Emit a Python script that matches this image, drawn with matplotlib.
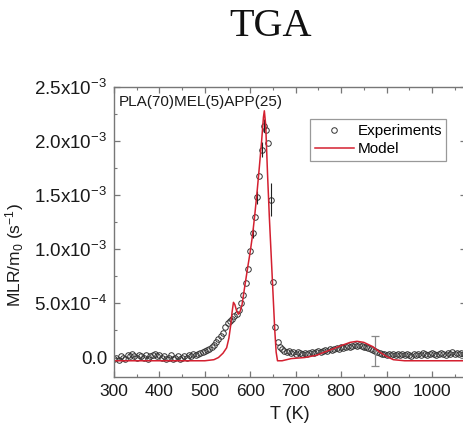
import numpy as np
import matplotlib
matplotlib.use("Agg")
import matplotlib.pyplot as plt
from matplotlib.ticker import MultipleLocator

plt.rcParams["font.family"] = ["Liberation Sans", "DejaVu Sans"]
plt.rcParams["mathtext.default"] = "regular"

# experimental mass loss rate, units of 1e-4 s^-1, sampled every 5 K
t_exp = [300, 305, 310, 315, 320, 325, 330, 335, 340, 345,
         350, 355, 360, 365, 370, 375, 380, 385, 390, 395,
         400, 405, 410, 415, 420, 425, 430, 435, 440, 445,
         450, 455, 460, 465, 470, 475, 480, 485, 490, 495,
         500, 505, 510, 515, 520, 525, 530, 535, 540, 545,
         550, 555, 560, 565, 570, 575, 580, 585, 590, 595,
         600, 605, 610, 615, 620, 625, 630, 635, 640, 645,
         650, 655, 660, 665, 670, 675, 680, 685, 690, 695,
         700, 705, 710, 715, 720, 725, 730, 735, 740, 745,
         750, 755, 760, 765, 770, 775, 780, 785, 790, 795,
         800, 805, 810, 815, 820, 825, 830, 835, 840, 845,
         850, 855, 860, 865, 870, 875, 880, 885, 890, 895,
         900, 905, 910, 915, 920, 925, 930, 935, 940, 945,
         950, 955, 960, 965, 970, 975, 980, 985, 990, 995,
         1000, 1005, 1010, 1015, 1020, 1025, 1030, 1035, 1040, 1045,
         1050, 1055, 1060, 1065, 1070]
mlr_exp = [-0.1, 0.0, -0.2, 0.1, 0.0, -0.1, 0.2, 0.1, 0.3, 0.1,
           0.0, 0.2, 0.1, 0.0, 0.2, -0.1, 0.1, 0.2, 0.3, 0.1,
           0.2, 0.0, 0.1, -0.1, 0.0, 0.2, -0.1, 0.0, 0.1, -0.1,
           0.0, 0.1, 0.0, 0.2, 0.1, 0.3, 0.2, 0.3, 0.4, 0.5,
           0.6, 0.7, 0.8, 1.0, 1.2, 1.4, 1.7, 2.0, 2.3, 2.8,
           3.2, 3.4, 3.6, 3.8, 4.0, 4.4, 5.0, 5.8, 6.9, 8.2,
           9.8, 11.5, 13.0, 14.8, 16.8, 19.2, 21.4, 21.0, 19.8, 14.6,
           7.0, 2.8, 1.4, 1.0, 0.8, 0.6, 0.5, 0.6, 0.4, 0.5,
           0.3, 0.5, 0.4, 0.3, 0.4, 0.3, 0.4, 0.5, 0.4, 0.5,
           0.6, 0.5, 0.6, 0.7, 0.6, 0.8, 0.7, 0.8, 0.9, 0.8,
           1.0, 0.9, 1.0, 1.1, 1.0, 1.1, 1.2, 1.1, 1.2, 1.1,
           1.0, 1.0, 0.9, 0.8, 0.7, 0.6, 0.5, 0.4, 0.3, 0.3,
           0.2, 0.3, 0.2, 0.3, 0.2, 0.3, 0.2, 0.3, 0.2, 0.3,
           0.2, 0.1, 0.3, 0.2, 0.3, 0.2, 0.4, 0.3, 0.2, 0.3,
           0.4, 0.3, 0.2, 0.3, 0.4, 0.3, 0.2, 0.4, 0.3, 0.5,
           0.3, 0.4, 0.3, 0.4, 0.3]

# model prediction, units of 1e-4 s^-1
t_model = [300, 400, 500, 520, 530, 540, 548, 553, 557, 560,
           563, 566, 570, 574, 578, 582, 588, 595, 600, 605,
           610, 615, 620, 625, 629, 631, 634, 638, 642, 646,
           650, 654, 657, 660, 670, 690, 720, 745, 770, 800,
           820, 835, 850, 870, 885, 900, 915, 940, 1075]
mlr_model = [-0.3, -0.3, -0.3, -0.2, 0.0, 0.4, 0.9, 1.8, 3.0, 4.2,
             5.1, 4.9, 4.3, 4.0, 4.3, 4.9, 6.6, 8.5, 9.8, 11.3,
             13.2, 15.3, 17.6, 20.0, 22.2, 22.8, 21.5, 17.0, 13.0, 9.5,
             6.0, 2.5, 0.5, -0.3, -0.3, -0.1, 0.0, 0.2, 0.6, 1.1,
             1.4, 1.5, 1.4, 1.0, 0.5, 0.1, -0.2, -0.3, -0.3]

# scatter of repeated runs
t_err = [605, 615, 625, 630, 645]
mlr_err = [11.5, 14.8, 19.2, 21.4, 14.6]
err_small = [0.5, 0.6, 0.7, 0.6, 1.5]
t_err_big = [875]
mlr_err_big = [0.6]
err_big = [1.4]

yticks = [0, 5e-4, 1e-3, 1.5e-3, 2e-3, 2.5e-3]
ytick_labels = ["0.0", "5.0x10$^{-4}$", "1.0x10$^{-3}$", "1.5x10$^{-3}$",
                "2.0x10$^{-3}$", "2.5x10$^{-3}$"]
xticks = [300, 400, 500, 600, 700, 800, 900, 1000]

scale = 1e-4

fig = plt.figure(figsize=(4.64, 4.26), dpi=100)
ax = fig.add_axes([114 / 464, 1 - 377 / 426, 352 / 464, 290 / 426])

fig.text(0.584, 0.937, "TGA", family=["Liberation Serif", "DejaVu Serif"],
         fontsize=29, ha="center", va="center", color="#111111")

ax.plot(t_exp, np.array(mlr_exp) * scale, "o", ms=4, mfc="none",
        mec="#333333", mew=0.7, label="Experiments")
ax.errorbar(t_err, np.array(mlr_err) * scale, yerr=np.array(err_small) * scale,
            fmt="none", ecolor="#222222", elinewidth=0.8)
ax.errorbar(t_err_big, np.array(mlr_err_big) * scale,
            yerr=np.array(err_big) * scale, fmt="none", ecolor="#888888",
            elinewidth=0.9, capsize=3, capthick=0.9)
ax.plot(t_model, np.array(mlr_model) * scale, "-", color="#d42030", lw=1.1,
        label="Model")

ax.set_xlim(300, 1075)
ax.set_ylim(-1.8e-4, 2.5e-3)
ax.set_xticks(xticks)
ax.set_yticks(yticks)
ax.set_yticklabels(ytick_labels)
ax.xaxis.set_minor_locator(MultipleLocator(50))
ax.yaxis.set_minor_locator(MultipleLocator(2.5e-4))
ax.tick_params(which="both", direction="in", top=True, right=True,
               color="#777777", labelcolor="#1a1a1a")
ax.tick_params(axis="x", labelsize=12.5, pad=5)
ax.tick_params(axis="y", labelsize=13.5, pad=5)
ax.tick_params(which="major", length=4, width=0.9)
ax.tick_params(which="minor", length=2.5, width=0.8)
for sp in ax.spines.values():
    sp.set_color("#777777")
    sp.set_linewidth(1.0)

ax.set_xlabel("T (K)", fontsize=13, color="#1a1a1a", labelpad=5)
ax.set_ylabel("MLR/m$_0$ (s$^{-1}$)", fontsize=12.5, color="#1a1a1a")
ax.yaxis.set_label_coords(-0.25, 0.42)

ax.text(0.014, 0.948, "PLA(70)MEL(5)APP(25)", transform=ax.transAxes,
        fontsize=11, color="#1a1a1a", va="center", ha="left")

leg = ax.legend(loc="upper right", bbox_to_anchor=(0.966, 0.915), numpoints=1,
                fontsize=11, handlelength=2.6, handletextpad=0.2,
                labelspacing=0.3, borderpad=0.3, fancybox=False,
                edgecolor="#999999", framealpha=1)
leg.get_frame().set_linewidth(0.9)

fig.savefig("out.png", dpi=100)
